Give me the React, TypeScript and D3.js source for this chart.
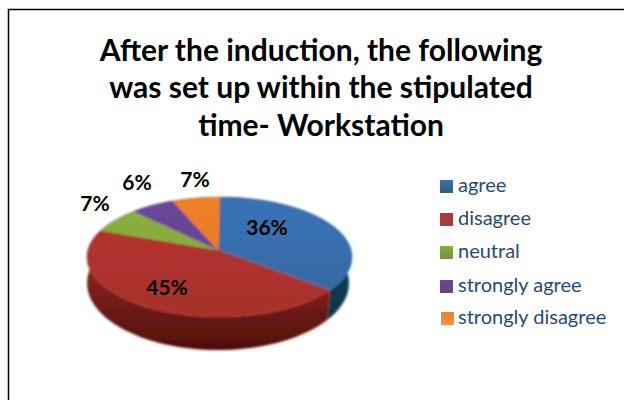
import React from "react";
import * as d3 from "d3";

const categories = ["agree", "disagree", "neutral", "strongly agree", "strongly disagree"];
const shares = [36, 45, 7, 6, 6.5];
const titleLines = ["After the induction, the following", "was set up within the stipulated", "time- Workstation"];
const topColors = ["#3a72b6", "#bb3430", "#8bb23f", "#6b479b", "#ee8027"];
const topLow = ["#34699f", "#a5302c", "#7f9f3a", "#5f3f8a", "#e0751f"];
const sideColors = ["#123f55", "#8c2420", "#5f7a26", "#46295f", "#a4561a"];
const sideDark = ["#0c2c3c", "#4e0f0c", "#3f5418", "#2e1a40", "#6e3a10"];
const legendY = [186, 219, 252, 286, 318];

const cx = 219.5, cy = 257, rx = 132.5, ry = 60, k = 0.117;
const project = (a: number, ox: number, oy: number, sx: number, sy: number): [number, number] => {
  const u = Math.sin(a), v = -Math.cos(a), w = 1 - k * v;
  return [ox + sx * 0.993 * u / w, oy + sy * (v - k) / w];
};
const line = d3.line();
const pieGen = d3.pie<number>().sort(null);
const arcs = pieGen(shares);

function rim(start: number, end: number, ox: number, oy: number, sx: number, sy: number) {
  return d3.range(0, 61).map((i) => project(start + (end - start) * i / 60, ox, oy, sx, sy));
}

const labelPos: [number, number][] = [[267, 229], [167, 289], [95, 205], [137, 184], [195, 181]];
const apex: [number, number] = [cx - 1.5, cy + ry * -k];

export default function App() {
  return (
    <svg width={624} height={400} style={{ position: "absolute", left: 0, top: 0, background: "#fff" }}>
      <defs>
        <filter id="soft" x="-5%" y="-5%" width="110%" height="110%"><feGaussianBlur stdDeviation="0.9" /></filter>
        {categories.map((c, i) => (
          <linearGradient key={c} id={`side${i}`} gradientUnits="userSpaceOnUse" x1="0" x2="0" y1="270" y2="350">
            <stop offset="0" stopColor={sideColors[i]} />
            <stop offset="1" stopColor={sideDark[i]} />
          </linearGradient>
        ))}
        {categories.map((c, i) => (
          <linearGradient key={c} id={`top${i}`} gradientUnits="userSpaceOnUse" x1="0" x2="0" y1="197" y2="317">
            <stop offset="0" stopColor={topColors[i]} />
            <stop offset="1" stopColor={topLow[i]} />
          </linearGradient>
        ))}
        {categories.map((c, i) => (
          <linearGradient key={c} id={`leg${i}`} x1="0" x2="0" y1="0" y2="1">
            <stop offset="0" stopColor={topColors[i]} />
            <stop offset="1" stopColor={i === 4 ? topColors[i] : sideColors[i]} stopOpacity={0.85} />
          </linearGradient>
        ))}
      </defs>
      <path d="M8.5,400V9.5H624" fill="none" stroke="#000" strokeWidth={1.5} />
      <g fontFamily="Lato" fontWeight={700} fontSize={30} textAnchor="middle" fill="#000">
        {titleLines.map((t, i) => (
          <text key={t} x={321} y={[61, 98, 136][i]}>{t}</text>
        ))}
      </g>
      <g filter="url(#soft)">
        {arcs.map((d, i) => (
          <path
            key={`s${i}`}
            d={line([...rim(d.startAngle, d.endAngle, cx, cy, rx, ry), ...rim(d.startAngle, d.endAngle, 218, 283, 131, 67).reverse()]) + "Z"}
            fill={`url(#side${i})`}
          />
        ))}
        {arcs.map((d, i) => (
          <path
            key={`t${i}`}
            d={line([apex, ...rim(d.startAngle, d.endAngle, cx, cy, rx, ry)]) + "Z"}
            fill={`url(#top${i})`}
            stroke={topColors[i]}
            strokeWidth={0.5}
          />
        ))}
      </g>
      <g fontFamily="Lato" fontWeight={700} fontSize={21} textAnchor="middle" fill="#000">
        {shares.map((v, i) => (
          <text key={i} x={labelPos[i][0]} y={labelPos[i][1] + 6}>{Math.round(v)}%</text>
        ))}
      </g>
      {categories.map((c, i) => (
        <g key={c}>
          <rect x={440 + (i === 4 ? 1 : 0)} y={legendY[i] - 6} width={13} height={13} fill={`url(#leg${i})`} />
          <text x={458} y={legendY[i] + 6} fontFamily="Lato" fontSize={20} fill="#1f497d">{c}</text>
        </g>
      ))}
    </svg>
  );
}
